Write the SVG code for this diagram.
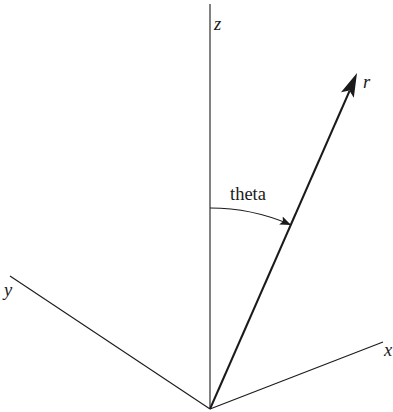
<svg xmlns="http://www.w3.org/2000/svg" width="393" height="412" viewBox="0 0 393 412">
<defs>
<style>
.ax{stroke:#1a1a1a;stroke-width:1.1;fill:none}
.lbl{font-family:"Liberation Serif",serif;font-size:18.5px;fill:#1a1a1a}
.it{font-style:italic}
</style>
<marker id="ah" viewBox="0 0 10 10" refX="9" refY="5" markerWidth="11" markerHeight="11" markerUnits="userSpaceOnUse" orient="auto">
<path d="M0,1 L10,5 L0,9 L2,5 Z" fill="#1a1a1a"/>
</marker>
</defs>
<rect width="393" height="412" fill="#fff"/>
<g id="connectors">
<line id="z-axis" class="ax" x1="210" y1="409" x2="210" y2="4" stroke="#444"/>
<line id="x-axis" class="ax" x1="210" y1="409" x2="383" y2="342"/>
<line id="y-axis" class="ax" x1="210" y1="409" x2="10" y2="276"/>
<line id="r-vector" x1="210" y1="409" x2="349.5" y2="91" stroke="#1a1a1a" stroke-width="2"/>
<path id="r-head" d="M357,73 L353.8,97.8 L349.4,90.6 L341,92.2 Z" fill="#1a1a1a"/>
<path id="theta-arc" class="ax" d="M210,208 A201,201 0 0 1 290,224.5" marker-end="url(#ah)"/>
</g>
<g id="label-z"><text class="lbl it" x="214" y="30">z</text></g>
<g id="label-r"><text class="lbl it" x="363" y="88">r</text></g>
<g id="label-x"><text class="lbl it" x="384" y="356">x</text></g>
<g id="label-y"><text class="lbl it" x="4" y="296">y</text></g>
<g id="label-theta"><text class="lbl" x="230" y="200">theta</text></g>
</svg>
